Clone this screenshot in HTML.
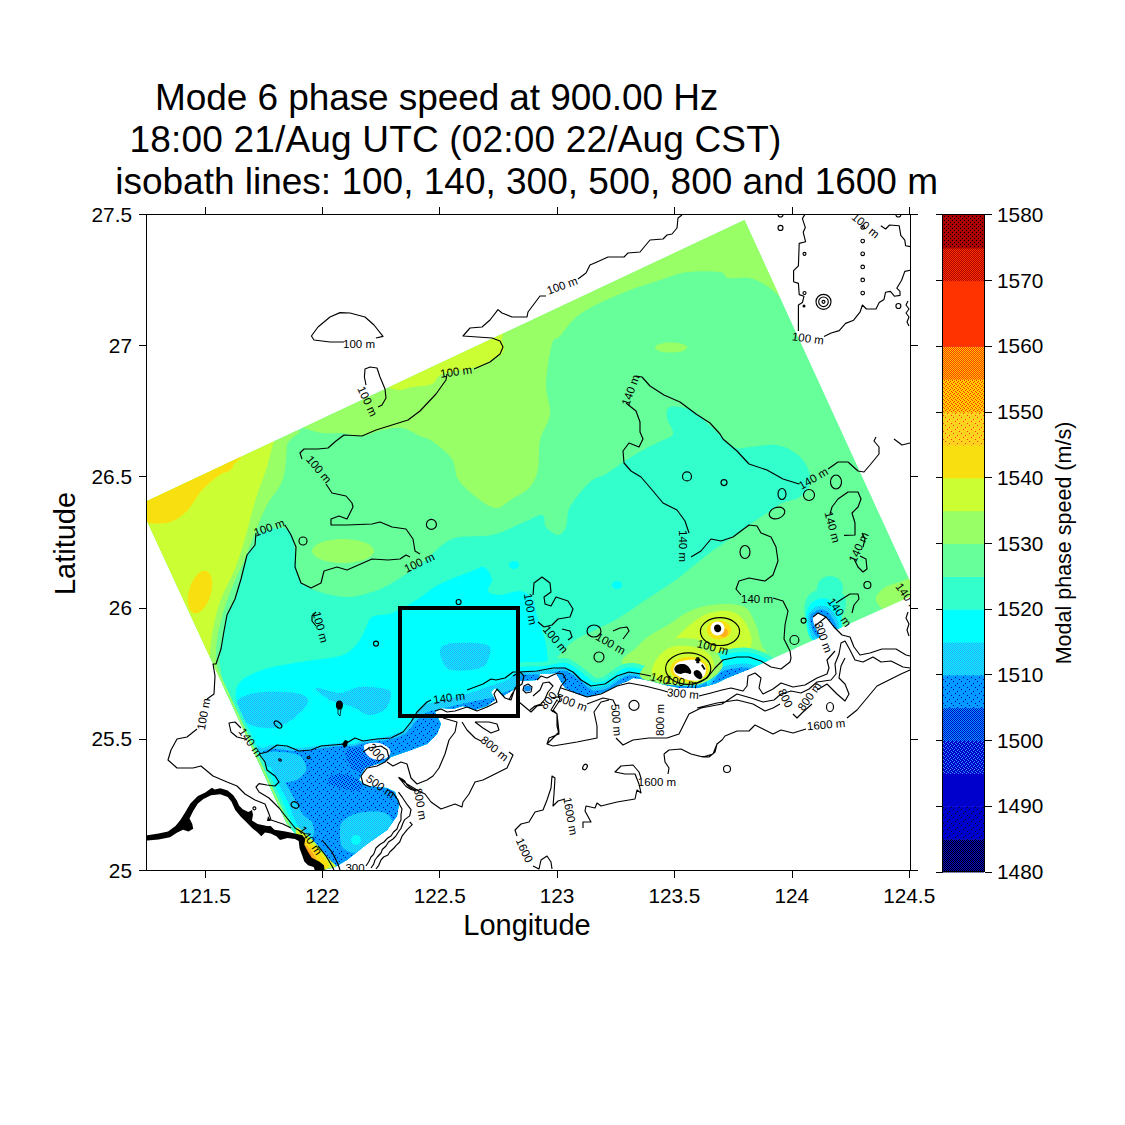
<!DOCTYPE html><html><head><meta charset="utf-8"><title>Mode 6 phase speed</title>
<style>html,body{margin:0;padding:0;background:#fff}svg{display:block}text{font-family:"Liberation Sans",sans-serif;fill:#000}</style></head><body>
<svg width="1125" height="1125" viewBox="0 0 1125 1125">
<rect width="1125" height="1125" fill="#fff"/>
<defs><pattern id="pb" width="8" height="8" patternUnits="userSpaceOnUse" shape-rendering="crispEdges"><rect width="8" height="8" fill="#0099ff"/><rect x="1" y="1" width="1" height="1" fill="#0000cc"/><rect x="5" y="3" width="1" height="1" fill="#0000cc"/><rect x="3" y="5" width="1" height="1" fill="#0000cc"/><rect x="7" y="7" width="1" height="1" fill="#0000cc"/></pattern><pattern id="pdb" width="4" height="4" patternUnits="userSpaceOnUse" shape-rendering="crispEdges"><rect width="4" height="4" fill="#0099ff"/><rect x="0" y="0" width="1" height="1" fill="#0000cc"/><rect x="2" y="1" width="1" height="1" fill="#0000cc"/><rect x="1" y="2" width="1" height="1" fill="#0000cc"/><rect x="3" y="3" width="1" height="1" fill="#0000cc"/></pattern><pattern id="c4" width="2" height="2" patternUnits="userSpaceOnUse" shape-rendering="crispEdges"><rect width="2" height="2" fill="#0099ff"/><rect x="0" y="0" width="1" height="1" fill="#0000cc"/><rect x="1" y="1" width="1" height="1" fill="#0000cc"/></pattern><pattern id="plb" width="2" height="2" patternUnits="userSpaceOnUse" shape-rendering="crispEdges"><rect width="2" height="2" fill="#00ffff"/><rect x="0" y="0" width="1" height="1" fill="#2aa4ff"/><rect x="1" y="1" width="1" height="1" fill="#2aa4ff"/></pattern><pattern id="c19" width="4" height="4" patternUnits="userSpaceOnUse" shape-rendering="crispEdges"><rect width="4" height="4" fill="#aa0000"/><rect x="0" y="0" width="1" height="1" fill="#000000"/><rect x="2" y="2" width="1" height="1" fill="#000000"/></pattern><pattern id="c18" width="2" height="2" patternUnits="userSpaceOnUse" shape-rendering="crispEdges"><rect width="2" height="2" fill="#aa0000"/><rect x="0" y="0" width="1" height="1" fill="#ff3300"/><rect x="1" y="1" width="1" height="1" fill="#ff3300"/></pattern><pattern id="c15" width="2" height="2" patternUnits="userSpaceOnUse" shape-rendering="crispEdges"><rect width="2" height="2" fill="#ff3300"/><rect x="0" y="0" width="1" height="1" fill="#ffcc00"/><rect x="1" y="1" width="1" height="1" fill="#ffcc00"/></pattern><pattern id="c14" width="4" height="4" patternUnits="userSpaceOnUse" shape-rendering="crispEdges"><rect width="4" height="4" fill="#ffcc00"/><rect x="0" y="0" width="1" height="1" fill="#ff3300"/><rect x="2" y="1" width="1" height="1" fill="#ff3300"/><rect x="1" y="2" width="1" height="1" fill="#ff3300"/><rect x="3" y="3" width="1" height="1" fill="#ff3300"/></pattern><pattern id="c13" width="8" height="8" patternUnits="userSpaceOnUse" shape-rendering="crispEdges"><rect width="8" height="8" fill="#ffd21e"/><rect x="1" y="1" width="1" height="1" fill="#ff3300"/><rect x="5" y="3" width="1" height="1" fill="#ff3300"/><rect x="3" y="5" width="1" height="1" fill="#ff3300"/><rect x="7" y="7" width="1" height="1" fill="#ff3300"/></pattern><pattern id="c3" width="4" height="4" patternUnits="userSpaceOnUse" shape-rendering="crispEdges"><rect width="4" height="4" fill="#0000cc"/><rect x="0" y="0" width="1" height="1" fill="#3399ff"/><rect x="2" y="1" width="1" height="1" fill="#3399ff"/><rect x="1" y="2" width="1" height="1" fill="#3399ff"/><rect x="3" y="3" width="1" height="1" fill="#3399ff"/></pattern><pattern id="c1" width="8" height="8" patternUnits="userSpaceOnUse" shape-rendering="crispEdges"><rect width="8" height="8" fill="#0000cc"/><rect x="1" y="1" width="1" height="1" fill="#000000"/><rect x="5" y="3" width="1" height="1" fill="#000000"/><rect x="3" y="5" width="1" height="1" fill="#000000"/><rect x="7" y="7" width="1" height="1" fill="#000000"/></pattern><pattern id="c0" width="2" height="2" patternUnits="userSpaceOnUse" shape-rendering="crispEdges"><rect width="2" height="2" fill="#0000cc"/><rect x="0" y="0" width="1" height="1" fill="#000000"/><rect x="1" y="1" width="1" height="1" fill="#000000"/></pattern><clipPath id="reg"><path d="M744.5 220.0L910.0 581.0L910.0 596.5L765.0 662.0L752.0 668.0L737.0 674.0L725.0 679.0L717.0 683.0L707.0 686.0L697.0 688.0L680.0 688.0L665.0 685.0L651.0 681.0L641.0 679.0L633.0 678.0L628.0 681.0L620.0 684.0L607.0 691.0L596.0 695.0L587.0 697.0L575.0 693.0L565.0 688.0L560.0 680.0L556.0 673.0L540.0 674.0L537.0 680.0L520.0 681.0L513.0 690.0L503.0 696.0L495.0 688.0L491.0 692.0L495.0 700.0L487.0 706.0L475.0 710.0L463.0 706.0L453.0 709.0L441.0 708.0L435.0 712.0L441.0 724.0L437.0 734.0L427.0 744.0L411.0 750.0L391.0 757.0L385.0 762.0L377.0 764.0L365.0 768.0L359.0 780.0L367.0 786.0L387.0 788.0L395.0 792.0L399.0 804.0L397.0 816.0L387.0 830.0L367.0 844.0L347.0 860.0L335.0 867.0L323.0 870.0L313.0 864.0L305.0 858.0L301.0 848.0L299.0 838.0L287.0 824.0L147.0 521.0L147.0 501.0Z"/></clipPath><clipPath id="ax"><rect x="147" y="214" width="763.5" height="656.5"/></clipPath></defs>
<g clip-path="url(#reg)">
<rect x="140" y="214" width="780" height="660" fill="#66ff99"/>
<path fill="#99ff66" d="M760.0 200.0C660.0 225.8 278.3 426.7 200.0 465.0C121.7 503.3 273.0 436.2 290.0 430.0C307.0 423.8 296.7 427.5 302.0 428.0C307.3 428.5 315.3 432.2 322.0 433.0C328.7 433.8 335.3 432.5 342.0 433.0C348.7 433.5 355.3 436.5 362.0 436.0C368.7 435.5 375.3 431.3 382.0 430.0C388.7 428.7 395.7 427.0 402.0 428.0C408.3 429.0 415.0 433.8 420.0 436.0C425.0 438.2 426.7 437.2 432.0 441.0C437.3 444.8 447.7 452.7 452.0 459.0C456.3 465.3 454.0 472.7 458.0 479.0C462.0 485.3 469.7 492.2 476.0 497.0C482.3 501.8 490.0 507.7 496.0 508.0C502.0 508.3 506.3 502.5 512.0 499.0C517.7 495.5 525.7 492.0 530.0 487.0C534.3 482.0 536.3 476.8 538.0 469.0C539.7 461.2 538.0 449.2 540.0 440.0C542.0 430.8 549.0 423.3 550.0 414.0C551.0 404.7 545.7 395.7 546.0 384.0C546.3 372.3 549.7 352.0 552.0 344.0C554.3 336.0 555.3 341.0 560.0 336.0C564.7 331.0 570.0 321.0 580.0 314.0C590.0 307.0 606.7 299.7 620.0 294.0C633.3 288.3 648.7 283.7 660.0 280.0C671.3 276.3 678.0 273.3 688.0 272.0C698.0 270.7 713.3 271.0 720.0 272.0C726.7 273.0 723.0 277.0 728.0 278.0C733.0 279.0 743.0 276.3 750.0 278.0C757.0 279.7 761.7 282.7 770.0 288.0C778.3 293.3 801.7 324.7 800.0 310.0C798.3 295.3 860.0 174.2 760.0 200.0Z"/>
<ellipse fill="#99ff66" cx="343" cy="551" rx="31" ry="12"/>
<ellipse fill="#99ff66" cx="671" cy="347.6" rx="16" ry="5"/>
<path fill="#99ff66" d="M120.0 480.0C148.0 462.0 260.2 437.8 288.0 432.0C315.8 426.2 287.8 437.2 287.0 445.0C286.2 452.8 286.3 469.0 283.0 479.0C279.7 489.0 271.7 496.0 267.0 505.0C262.3 514.0 259.0 523.3 255.0 533.0C251.0 542.7 247.3 552.7 243.0 563.0C238.7 573.3 233.0 584.0 229.0 595.0C225.0 606.0 221.2 618.3 219.0 629.0C216.8 639.7 215.5 649.7 216.0 659.0C216.5 668.3 219.3 676.2 222.0 685.0C224.7 693.8 231.5 704.5 232.0 712.0C232.5 719.5 243.7 758.7 225.0 730.0C206.3 701.3 137.5 581.7 120.0 540.0C102.5 498.3 92.0 498.0 120.0 480.0Z"/>
<path fill="#99ff66" d="M622.0 662.0C621.3 657.0 631.5 652.3 636.0 648.0C640.5 643.7 643.7 639.8 649.0 636.0C654.3 632.2 661.8 628.8 668.0 625.0C674.2 621.2 679.8 616.2 686.0 613.0C692.2 609.8 698.0 607.5 705.0 606.0C712.0 604.5 721.2 603.7 728.0 604.0C734.8 604.3 741.3 604.5 746.0 608.0C750.7 611.5 753.5 619.2 756.0 625.0C758.5 630.8 759.0 636.5 761.0 643.0C763.0 649.5 771.5 654.5 768.0 664.0C764.5 673.5 758.0 694.0 740.0 700.0C722.0 706.0 676.7 703.7 660.0 700.0C643.3 696.3 646.3 684.3 640.0 678.0C633.7 671.7 622.7 667.0 622.0 662.0Z"/>
<path fill="#99ff66" d="M876.0 600.0C875.0 596.0 880.0 591.0 884.0 588.0C888.0 585.0 894.7 583.7 900.0 582.0C905.3 580.3 912.7 575.0 916.0 578.0C919.3 581.0 924.3 594.3 920.0 600.0C915.7 605.7 897.3 612.0 890.0 612.0C882.7 612.0 877.0 604.0 876.0 600.0Z"/>
<path fill="#ccff33" d="M120.0 480.0C146.0 459.0 250.5 440.0 276.0 434.0C301.5 428.0 274.7 438.0 273.0 444.0C271.3 450.0 268.5 462.0 266.0 470.0C263.5 478.0 260.3 485.0 258.0 492.0C255.7 499.0 254.0 504.8 252.0 512.0C250.0 519.2 248.8 525.5 246.0 535.0C243.2 544.5 239.2 558.3 235.0 569.0C230.8 579.7 224.7 589.0 221.0 599.0C217.3 609.0 214.8 619.0 213.0 629.0C211.2 639.0 209.8 651.8 210.0 659.0C210.2 666.2 229.0 688.5 214.0 672.0C199.0 655.5 135.7 592.0 120.0 560.0C104.3 528.0 94.0 501.0 120.0 480.0Z"/>
<path fill="#ccff33" d="M396.0 380.0C411.7 370.8 474.3 341.5 492.0 335.0C509.7 328.5 500.2 338.2 502.0 341.0C503.8 343.8 504.7 348.8 503.0 352.0C501.3 355.2 497.2 357.3 492.0 360.0C486.8 362.7 480.3 365.7 472.0 368.0C463.7 370.3 448.7 371.3 442.0 374.0C435.3 376.7 437.0 381.8 432.0 384.0C427.0 386.2 417.7 386.0 412.0 387.0C406.3 388.0 400.7 391.2 398.0 390.0C395.3 388.8 380.3 389.2 396.0 380.0Z"/>
<path fill="#ccff33" d="M656.0 659.0C656.5 651.5 663.7 649.5 668.0 645.0C672.3 640.5 677.3 636.2 682.0 632.0C686.7 627.8 691.3 623.2 696.0 620.0C700.7 616.8 704.7 614.5 710.0 613.0C715.3 611.5 722.7 610.2 728.0 611.0C733.3 611.8 738.2 613.8 742.0 618.0C745.8 622.2 749.8 630.7 751.0 636.0C752.2 641.3 751.7 646.5 749.0 650.0C746.3 653.5 739.7 655.5 735.0 657.0C730.3 658.5 724.5 657.2 721.0 659.0C717.5 660.8 717.5 661.2 714.0 668.0C710.5 674.8 708.2 696.3 700.0 700.0C691.8 703.7 672.3 696.8 665.0 690.0C657.7 683.2 655.5 666.5 656.0 659.0Z"/>
<path fill="#f8e010" d="M140.0 500.0C156.0 489.7 221.7 463.0 236.0 458.0C250.3 453.0 231.3 465.0 226.0 470.0C220.7 475.0 210.7 481.0 204.0 488.0C197.3 495.0 192.3 506.2 186.0 512.0C179.7 517.8 173.7 521.7 166.0 523.0C158.3 524.3 144.3 523.8 140.0 520.0C135.7 516.2 124.0 510.3 140.0 500.0Z"/>
<ellipse fill="#f8e010" cx="200" cy="592" rx="11" ry="22" transform="rotate(16 200 592)"/>
<ellipse fill="#f8e010" cx="226" cy="468" rx="8" ry="4" transform="rotate(-25 226 468)"/>
<path fill="#33ffcc" d="M259.0 533.0C264.3 530.3 281.0 526.0 287.0 529.0C293.0 532.0 293.0 542.7 295.0 551.0C297.0 559.3 295.3 572.3 299.0 579.0C302.7 585.7 309.0 588.0 317.0 591.0C325.0 594.0 337.8 596.8 347.0 597.0C356.2 597.2 364.5 594.3 372.0 592.0C379.5 589.7 383.7 587.8 392.0 583.0C400.3 578.2 412.0 570.3 422.0 563.0C432.0 555.7 440.3 543.7 452.0 539.0C463.7 534.3 480.3 537.7 492.0 535.0C503.7 532.3 513.7 526.3 522.0 523.0C530.3 519.7 538.0 514.3 542.0 515.0C546.0 515.7 543.3 523.7 546.0 527.0C548.7 530.3 554.7 535.0 558.0 535.0C561.3 535.0 564.0 531.7 566.0 527.0C568.0 522.3 566.0 514.5 570.0 507.0C574.0 499.5 584.0 487.5 590.0 482.0C596.0 476.5 600.2 477.5 606.0 474.0C611.8 470.5 618.8 465.0 625.0 461.0C631.2 457.0 637.3 453.2 643.0 450.0C648.7 446.8 654.0 444.7 659.0 442.0C664.0 439.3 671.7 438.0 673.0 434.0C674.3 430.0 667.5 422.5 667.0 418.0C666.5 413.5 666.0 408.3 670.0 407.0C674.0 405.7 684.3 406.8 691.0 410.0C697.7 413.2 702.8 419.8 710.0 426.0C717.2 432.2 727.3 443.5 734.0 447.0C740.7 450.5 742.8 447.3 750.0 447.0C757.2 446.7 769.0 443.7 777.0 445.0C785.0 446.3 792.7 450.7 798.0 455.0C803.3 459.3 807.2 465.7 809.0 471.0C810.8 476.3 810.8 482.5 809.0 487.0C807.2 491.5 802.5 495.3 798.0 498.0C793.5 500.7 787.2 500.5 782.0 503.0C776.8 505.5 772.5 509.3 767.0 513.0C761.5 516.7 755.7 520.3 749.0 525.0C742.3 529.7 734.0 536.0 727.0 541.0C720.0 546.0 715.3 548.7 707.0 555.0C698.7 561.3 687.0 571.7 677.0 579.0C667.0 586.3 657.0 592.3 647.0 599.0C637.0 605.7 625.3 614.0 617.0 619.0C608.7 624.0 604.0 625.5 597.0 629.0C590.0 632.5 580.8 636.2 575.0 640.0C569.2 643.8 565.2 648.0 562.0 652.0C558.8 656.0 557.0 656.0 556.0 664.0C555.0 672.0 598.7 660.7 556.0 700.0C513.3 739.3 351.0 890.0 300.0 900.0C249.0 910.0 260.7 789.7 250.0 760.0C239.3 730.3 240.0 732.8 236.0 722.0C232.0 711.2 228.7 704.7 226.0 695.0C223.3 685.3 220.8 671.7 220.0 664.0C219.2 656.3 220.3 654.5 221.0 649.0C221.7 643.5 223.0 636.7 224.0 631.0C225.0 625.3 225.2 620.3 227.0 615.0C228.8 609.7 232.7 605.0 235.0 599.0C237.3 593.0 239.0 586.3 241.0 579.0C243.0 571.7 244.7 560.7 247.0 555.0C249.3 549.3 253.0 548.7 255.0 545.0C257.0 541.3 253.7 535.7 259.0 533.0Z"/>
<ellipse fill="#33ffcc" cx="830" cy="588" rx="13" ry="12"/>
<path fill="#33ffcc" d="M806.0 600.0C808.0 595.0 812.3 591.3 818.0 590.0C823.7 588.7 835.3 589.7 840.0 592.0C844.7 594.3 846.3 599.0 846.0 604.0C845.7 609.0 842.3 617.7 838.0 622.0C833.7 626.3 825.3 630.3 820.0 630.0C814.7 629.7 808.3 625.0 806.0 620.0C803.7 615.0 804.0 605.0 806.0 600.0Z"/>
<path fill="#00ffff" d="M372.0 617.0C376.5 614.2 384.3 616.0 392.0 613.0C399.7 610.0 410.3 603.7 418.0 599.0C425.7 594.3 429.0 589.7 438.0 585.0C447.0 580.3 464.3 574.0 472.0 571.0C479.7 568.0 480.7 565.7 484.0 567.0C487.3 568.3 491.3 575.0 492.0 579.0C492.7 583.0 486.7 588.3 488.0 591.0C489.3 593.7 494.7 595.0 500.0 595.0C505.3 595.0 514.7 590.3 520.0 591.0C525.3 591.7 529.0 594.3 532.0 599.0C535.0 603.7 535.8 612.2 538.0 619.0C540.2 625.8 543.3 632.5 545.0 640.0C546.7 647.5 547.5 654.0 548.0 664.0C548.5 674.0 589.3 660.7 548.0 700.0C506.7 739.3 347.7 888.3 300.0 900.0C252.3 911.7 271.0 798.7 262.0 770.0C253.0 741.3 250.3 739.7 246.0 728.0C241.7 716.3 237.0 707.7 236.0 700.0C235.0 692.3 235.7 687.0 240.0 682.0C244.3 677.0 252.0 673.3 262.0 670.0C272.0 666.7 287.0 664.3 300.0 662.0C313.0 659.7 330.7 658.8 340.0 656.0C349.3 653.2 351.8 649.3 356.0 645.0C360.2 640.7 362.3 634.7 365.0 630.0C367.7 625.3 367.5 619.8 372.0 617.0Z"/>
<ellipse fill="#00ffff" cx="514" cy="565" rx="5" ry="4"/>
<ellipse fill="#00ffff" cx="617" cy="585" rx="5" ry="4"/>
<ellipse fill="#00ffff" cx="367" cy="649" rx="7" ry="7"/>
<path fill="#00ffff" d="M808.0 610.0C808.3 605.7 812.3 601.7 816.0 600.0C819.7 598.3 826.3 598.0 830.0 600.0C833.7 602.0 838.0 607.7 838.0 612.0C838.0 616.3 834.0 623.7 830.0 626.0C826.0 628.3 817.7 628.7 814.0 626.0C810.3 623.3 807.7 614.3 808.0 610.0Z"/>
<path fill="url(#plb)" d="M236.0 704.0C237.3 699.0 245.2 694.8 255.0 693.0C264.8 691.2 286.2 691.7 295.0 693.0C303.8 694.3 308.0 697.0 308.0 701.0C308.0 705.0 300.8 712.5 295.0 717.0C289.2 721.5 281.0 727.0 273.0 728.0C265.0 729.0 253.2 727.0 247.0 723.0C240.8 719.0 234.7 709.0 236.0 704.0Z"/>
<path fill="url(#plb)" d="M316.0 688.0C317.7 686.8 332.8 693.2 340.0 693.0C347.2 692.8 352.3 687.8 359.0 687.0C365.7 686.2 374.7 687.0 380.0 688.0C385.3 689.0 390.2 689.5 391.0 693.0C391.8 696.5 388.7 705.3 385.0 709.0C381.3 712.7 374.3 715.3 369.0 715.0C363.7 714.7 359.5 709.5 353.0 707.0C346.5 704.5 336.2 703.2 330.0 700.0C323.8 696.8 314.3 689.2 316.0 688.0Z"/>
<path fill="url(#plb)" d="M441.0 648.0C443.2 645.2 447.3 643.5 455.0 643.0C462.7 642.5 481.3 642.7 487.0 645.0C492.7 647.3 490.2 653.2 489.0 657.0C487.8 660.8 486.2 665.8 480.0 668.0C473.8 670.2 458.3 671.3 452.0 670.0C445.7 668.7 443.8 663.7 442.0 660.0C440.2 656.3 438.8 650.8 441.0 648.0Z"/>
<path fill="url(#plb)" d="M250.0 742.0C248.7 738.3 258.2 747.5 262.0 748.0C265.8 748.5 267.2 745.0 273.0 745.0C278.8 745.0 289.8 747.8 297.0 748.0C304.2 748.2 308.8 746.8 316.0 746.0C323.2 745.2 333.8 743.3 340.0 743.0C346.2 742.7 349.0 744.5 353.0 744.0C357.0 743.5 359.5 741.0 364.0 740.0C368.5 739.0 374.8 739.0 380.0 738.0C385.2 737.0 390.5 735.7 395.0 734.0C399.5 732.3 403.7 731.0 407.0 728.0C410.3 725.0 412.0 719.8 415.0 716.0C418.0 712.2 420.0 707.7 425.0 705.0C430.0 702.3 437.5 702.0 445.0 700.0C452.5 698.0 462.5 695.3 470.0 693.0C477.5 690.7 484.2 688.0 490.0 686.0C495.8 684.0 500.0 683.0 505.0 681.0C510.0 679.0 515.8 670.8 520.0 674.0C524.2 677.2 566.7 662.3 530.0 700.0C493.3 737.7 339.3 880.0 300.0 900.0C260.7 920.0 299.0 841.7 294.0 820.0C289.0 798.3 277.3 783.0 270.0 770.0C262.7 757.0 251.3 745.7 250.0 742.0Z"/>
<path fill="url(#pb)" d="M262.0 754.0C261.5 750.8 267.2 749.5 273.0 749.0C278.8 748.5 289.8 751.0 297.0 751.0C304.2 751.0 308.8 749.8 316.0 749.0C323.2 748.2 333.8 746.5 340.0 746.0C346.2 745.5 349.0 746.5 353.0 746.0C357.0 745.5 359.5 743.8 364.0 743.0C368.5 742.2 374.8 741.8 380.0 741.0C385.2 740.2 390.5 739.5 395.0 738.0C399.5 736.5 403.3 735.0 407.0 732.0C410.7 729.0 413.5 723.3 417.0 720.0C420.5 716.7 423.3 714.0 428.0 712.0C432.7 710.0 438.0 709.7 445.0 708.0C452.0 706.3 462.5 703.7 470.0 702.0C477.5 700.3 481.7 700.0 490.0 698.0C498.3 696.0 513.3 686.3 520.0 690.0C526.7 693.7 566.7 685.0 530.0 720.0C493.3 755.0 336.0 881.3 300.0 900.0C264.0 918.7 313.7 846.5 314.0 832.0C314.3 817.5 306.2 820.2 302.0 813.0C297.8 805.8 293.3 796.5 289.0 789.0C284.7 781.5 280.5 773.8 276.0 768.0C271.5 762.2 262.5 757.2 262.0 754.0Z"/>
<path fill="url(#plb)" d="M262.0 754.0C263.3 750.7 273.7 751.7 280.0 752.0C286.3 752.3 295.7 753.0 300.0 756.0C304.3 759.0 306.7 766.0 306.0 770.0C305.3 774.0 300.3 778.0 296.0 780.0C291.7 782.0 284.0 783.3 280.0 782.0C276.0 780.7 275.0 776.7 272.0 772.0C269.0 767.3 260.7 757.3 262.0 754.0Z"/>
<ellipse fill="#99ff66" cx="271" cy="780" rx="5" ry="7" transform="rotate(-20 271 780)"/>
<path fill="url(#plb)" d="M343.0 821.0C346.2 817.8 352.0 814.3 359.0 813.0C366.0 811.7 379.3 810.7 385.0 813.0C390.7 815.3 393.8 822.0 393.0 827.0C392.2 832.0 385.7 838.7 380.0 843.0C374.3 847.3 365.2 852.2 359.0 853.0C352.8 853.8 346.2 851.5 343.0 848.0C339.8 844.5 340.0 836.5 340.0 832.0C340.0 827.5 339.8 824.2 343.0 821.0Z"/>
<ellipse fill="#00ffff" cx="356" cy="840" rx="5" ry="5"/>
<path fill="url(#pdb)" d="M346.0 750.4C348.1 747.5 356.7 746.9 362.0 747.2C367.3 747.5 375.1 749.6 378.0 752.0C380.9 754.4 380.7 758.4 379.6 761.6C378.5 764.8 375.1 769.3 371.6 771.2C368.1 773.1 362.5 773.9 358.8 772.8C355.1 771.7 351.3 768.5 349.2 764.8C347.1 761.1 343.9 753.3 346.0 750.4Z"/>
<path fill="url(#pdb)" d="M330.0 776.0C332.7 774.4 340.9 773.3 346.0 774.4C351.1 775.5 358.3 779.7 360.4 782.4C362.5 785.1 361.7 789.3 358.8 790.4C355.9 791.5 347.6 789.9 342.8 788.8C338.0 787.7 332.1 786.1 330.0 784.0C327.9 781.9 327.3 777.6 330.0 776.0Z"/>
<path fill="none" stroke="#00ffff" stroke-width="18" d="M262 770L296 844"/>
<path fill="none" stroke="#33ffcc" stroke-width="11" d="M222 684L296 844"/>
<path fill="none" stroke="#99ff66" stroke-width="4.5" d="M213 664L296 844"/>
<path fill="#fff" d="M364.0 746.0C364.7 743.8 369.0 743.3 372.0 743.0C375.0 742.7 379.0 742.8 382.0 744.0C385.0 745.2 389.0 747.8 390.0 750.0C391.0 752.2 390.0 755.3 388.0 757.0C386.0 758.7 381.3 760.2 378.0 760.0C374.7 759.8 370.3 758.3 368.0 756.0C365.7 753.7 363.3 748.2 364.0 746.0Z"/>
<path fill="none" stroke="#33ffcc" stroke-width="18" stroke-linejoin="round" d="M800.0 655.0C798.3 656.2 793.2 659.7 790.0 662.0C786.8 664.3 784.2 668.2 781.0 669.0C777.8 669.8 774.3 668.3 771.0 667.0C767.7 665.7 764.7 662.7 761.0 661.0C757.3 659.3 753.0 657.7 749.0 657.0C745.0 656.3 741.3 656.5 737.0 657.0C732.7 657.5 726.7 658.2 723.0 660.0C719.3 661.8 717.7 665.0 715.0 668.0C712.3 671.0 710.0 675.5 707.0 678.0C704.0 680.5 701.5 682.3 697.0 683.0C692.5 683.7 685.3 682.7 680.0 682.0C674.7 681.3 669.8 680.0 665.0 679.0C660.2 678.0 655.0 676.8 651.0 676.0C647.0 675.2 644.0 674.7 641.0 674.0C638.0 673.3 635.7 672.2 633.0 672.0C630.3 671.8 627.8 671.8 625.0 673.0C622.2 674.2 619.0 677.0 616.0 679.0C613.0 681.0 610.3 683.7 607.0 685.0C603.7 686.3 598.7 686.8 596.0 687.0C593.3 687.2 593.7 687.7 591.0 686.0C588.3 684.3 583.2 679.5 580.0 677.0C576.8 674.5 574.7 672.7 572.0 671.0C569.3 669.3 567.2 667.3 564.0 667.0C560.8 666.7 557.0 668.3 553.0 669.0C549.0 669.7 544.8 670.7 540.0 671.0C535.2 671.3 527.5 670.7 524.0 671.0C520.5 671.3 519.8 672.7 519.0 673.0"/>
<path fill="none" stroke="#00ffff" stroke-width="9" stroke-linejoin="round" d="M800.0 655.0C798.3 656.2 793.2 659.7 790.0 662.0C786.8 664.3 784.2 668.2 781.0 669.0C777.8 669.8 774.3 668.3 771.0 667.0C767.7 665.7 764.7 662.7 761.0 661.0C757.3 659.3 753.0 657.7 749.0 657.0C745.0 656.3 741.3 656.5 737.0 657.0C732.7 657.5 726.7 658.2 723.0 660.0C719.3 661.8 717.7 665.0 715.0 668.0C712.3 671.0 710.0 675.5 707.0 678.0C704.0 680.5 701.5 682.3 697.0 683.0C692.5 683.7 685.3 682.7 680.0 682.0C674.7 681.3 669.8 680.0 665.0 679.0C660.2 678.0 655.0 676.8 651.0 676.0C647.0 675.2 644.0 674.7 641.0 674.0C638.0 673.3 635.7 672.2 633.0 672.0C630.3 671.8 627.8 671.8 625.0 673.0C622.2 674.2 619.0 677.0 616.0 679.0C613.0 681.0 610.3 683.7 607.0 685.0C603.7 686.3 598.7 686.8 596.0 687.0C593.3 687.2 593.7 687.7 591.0 686.0C588.3 684.3 583.2 679.5 580.0 677.0C576.8 674.5 574.7 672.7 572.0 671.0C569.3 669.3 567.2 667.3 564.0 667.0C560.8 666.7 557.0 668.3 553.0 669.0C549.0 669.7 544.8 670.7 540.0 671.0C535.2 671.3 527.5 670.7 524.0 671.0C520.5 671.3 519.8 672.7 519.0 673.0"/>
<path fill="url(#plb)" d="M715.0 668.0C713.7 669.7 710.0 675.5 707.0 678.0C704.0 680.5 701.5 682.3 697.0 683.0C692.5 683.7 685.3 682.7 680.0 682.0C674.7 681.3 669.8 680.0 665.0 679.0C660.2 678.0 655.0 676.8 651.0 676.0C647.0 675.2 644.0 674.7 641.0 674.0C638.0 673.3 635.7 672.2 633.0 672.0C630.3 671.8 627.8 671.8 625.0 673.0C622.2 674.2 619.0 677.0 616.0 679.0C613.0 681.0 610.3 683.7 607.0 685.0C603.7 686.3 598.7 686.8 596.0 687.0C593.3 687.2 593.7 687.7 591.0 686.0C588.3 684.3 583.2 679.5 580.0 677.0C576.8 674.5 574.7 672.7 572.0 671.0C569.3 669.3 567.2 667.3 564.0 667.0C560.8 666.7 557.0 668.3 553.0 669.0C549.0 669.7 544.8 670.7 540.0 671.0C535.2 671.3 527.5 670.7 524.0 671.0C520.5 671.3 519.8 672.7 519.0 673.0L519 730L715 730Z"/>
<path fill="url(#pb)" d="M715.0 671.5C713.7 673.2 710.0 679.0 707.0 681.5C704.0 684.0 701.5 685.8 697.0 686.5C692.5 687.2 685.3 686.2 680.0 685.5C674.7 684.8 669.8 683.5 665.0 682.5C660.2 681.5 655.0 680.3 651.0 679.5C647.0 678.7 644.0 678.2 641.0 677.5C638.0 676.8 635.7 675.7 633.0 675.5C630.3 675.3 627.8 675.3 625.0 676.5C622.2 677.7 619.0 680.5 616.0 682.5C613.0 684.5 610.3 687.2 607.0 688.5C603.7 689.8 598.7 690.3 596.0 690.5C593.3 690.7 593.7 691.2 591.0 689.5C588.3 687.8 583.2 683.0 580.0 680.5C576.8 678.0 574.7 676.2 572.0 674.5C569.3 672.8 567.2 670.8 564.0 670.5C560.8 670.2 557.0 671.8 553.0 672.5C549.0 673.2 544.8 674.2 540.0 674.5C535.2 674.8 527.5 674.2 524.0 674.5C520.5 674.8 519.8 676.2 519.0 676.5L519 730L715 730Z"/>
<path fill="#00ffff" d="M800.0 655.0C798.3 656.2 793.2 659.7 790.0 662.0C786.8 664.3 784.2 668.2 781.0 669.0C777.8 669.8 774.3 668.3 771.0 667.0C767.7 665.7 764.7 662.7 761.0 661.0C757.3 659.3 753.0 657.7 749.0 657.0C745.0 656.3 741.3 656.5 737.0 657.0C732.7 657.5 726.7 658.2 723.0 660.0C719.3 661.8 717.7 665.0 715.0 668.0C712.3 671.0 708.3 676.3 707.0 678.0L707 730L800 730Z"/>
<path fill="url(#plb)" d="M800.0 662.0C798.3 663.2 793.2 666.7 790.0 669.0C786.8 671.3 784.2 675.2 781.0 676.0C777.8 676.8 774.3 675.3 771.0 674.0C767.7 672.7 764.7 669.7 761.0 668.0C757.3 666.3 753.0 664.7 749.0 664.0C745.0 663.3 741.3 663.5 737.0 664.0C732.7 664.5 726.7 665.2 723.0 667.0C719.3 668.8 717.7 672.0 715.0 675.0C712.3 678.0 708.3 683.3 707.0 685.0L707 730L800 730Z"/>
<path fill="url(#pb)" d="M800.0 666.0C798.3 667.2 793.2 670.7 790.0 673.0C786.8 675.3 784.2 679.2 781.0 680.0C777.8 680.8 774.3 679.3 771.0 678.0C767.7 676.7 764.7 673.7 761.0 672.0C757.3 670.3 753.0 668.7 749.0 668.0C745.0 667.3 741.3 667.5 737.0 668.0C732.7 668.5 726.7 669.2 723.0 671.0C719.3 672.8 717.7 676.0 715.0 679.0C712.3 682.0 708.3 687.3 707.0 689.0L707 730L800 730Z"/>
<path fill="#99ff66" d="M640.0 676.0C638.3 672.0 645.3 666.0 650.0 660.0C654.7 654.0 659.7 643.3 668.0 640.0C676.3 636.7 692.0 638.0 700.0 640.0C708.0 642.0 712.3 647.3 716.0 652.0C719.7 656.7 724.7 662.7 722.0 668.0C719.3 673.3 710.3 681.3 700.0 684.0C689.7 686.7 670.0 685.3 660.0 684.0C650.0 682.7 641.7 680.0 640.0 676.0Z"/>
<path fill="#ccff33" d="M652.0 672.0C651.2 667.5 656.0 659.3 660.0 655.0C664.0 650.7 668.7 646.8 676.0 646.0C683.3 645.2 697.7 646.7 704.0 650.0C710.3 653.3 714.7 660.7 714.0 666.0C713.3 671.3 708.2 679.3 700.0 682.0C691.8 684.7 673.0 683.7 665.0 682.0C657.0 680.3 652.8 676.5 652.0 672.0Z"/>
<ellipse fill="#ccff33" cx="688.2" cy="668.6" rx="22.6" ry="15.7"/>
<ellipse fill="#f8e010" cx="689.5" cy="669.2" rx="19" ry="12.5"/>
<path fill="#fff" d="M673.5 669.0C673.8 667.2 675.1 664.4 677.0 663.0C678.9 661.6 682.0 661.0 685.0 660.5C688.0 660.0 692.0 659.5 695.0 660.0C698.0 660.5 701.2 662.0 703.0 663.5C704.8 665.0 705.8 666.9 706.0 669.0C706.2 671.1 705.3 674.1 704.0 676.0C702.7 677.9 700.5 679.8 698.0 680.5C695.5 681.2 692.0 680.6 689.0 680.0C686.0 679.4 682.3 678.1 680.0 677.0C677.7 675.9 676.1 674.8 675.0 673.5C673.9 672.2 673.2 670.8 673.5 669.0Z"/>
<ellipse fill="#ccff33" cx="719.7" cy="632.3" rx="19.6" ry="14.4"/>
<ellipse fill="#f8e010" cx="719" cy="630" rx="12" ry="9.5"/>
<ellipse fill="#ffb020" cx="723.5" cy="632.5" rx="4.5" ry="4.5"/>
<circle fill="#fff" cx="717.5" cy="628.5" r="7"/>
<path fill="#ccff33" d="M296.0 828.0C297.0 825.3 302.3 831.0 306.0 834.0C309.7 837.0 314.3 842.0 318.0 846.0C321.7 850.0 325.0 854.3 328.0 858.0C331.0 861.7 337.7 865.7 336.0 868.0C334.3 870.3 324.0 875.0 318.0 872.0C312.0 869.0 303.7 857.3 300.0 850.0C296.3 842.7 295.0 830.7 296.0 828.0Z"/>
<path fill="#f8e010" d="M300.0 836.0C301.3 834.3 306.7 839.3 310.0 842.0C313.3 844.7 316.8 848.0 320.0 852.0C323.2 856.0 330.0 863.0 329.0 866.0C328.0 869.0 318.5 872.3 314.0 870.0C309.5 867.7 304.3 857.7 302.0 852.0C299.7 846.3 298.7 837.7 300.0 836.0Z"/>
<path fill="#ffb020" d="M304.0 844.0C305.0 843.2 308.0 846.7 310.0 849.0C312.0 851.3 314.8 855.2 316.0 858.0C317.2 860.8 318.0 864.7 317.0 866.0C316.0 867.3 312.2 868.0 310.0 866.0C307.8 864.0 305.0 857.7 304.0 854.0C303.0 850.3 303.0 844.8 304.0 844.0Z"/>
<path fill="#ff7818" d="M305.0 848.0C305.7 847.7 307.8 850.2 309.0 852.0C310.2 853.8 312.2 857.7 312.0 859.0C311.8 860.3 309.2 860.8 308.0 860.0C306.8 859.2 305.5 856.0 305.0 854.0C304.5 852.0 304.3 848.3 305.0 848.0Z"/>
<path fill="#00ffff" d="M806.0 616.0C806.0 610.0 809.0 606.7 812.0 604.0C815.0 601.3 820.0 599.7 824.0 600.0C828.0 600.3 833.0 602.3 836.0 606.0C839.0 609.7 842.0 616.3 842.0 622.0C842.0 627.7 841.0 637.0 836.0 640.0C831.0 643.0 817.0 644.0 812.0 640.0C807.0 636.0 806.0 622.0 806.0 616.0Z"/>
<path fill="url(#plb)" d="M808.0 618.0C808.0 612.7 811.3 610.0 814.0 608.0C816.7 606.0 820.8 605.3 824.0 606.0C827.2 606.7 830.5 608.7 833.0 612.0C835.5 615.3 838.8 621.3 839.0 626.0C839.2 630.7 838.2 637.7 834.0 640.0C829.8 642.3 818.3 643.7 814.0 640.0C809.7 636.3 808.0 623.3 808.0 618.0Z"/>
<path fill="url(#pb)" d="M810.0 618.0C810.0 613.8 813.7 612.3 816.0 611.0C818.3 609.7 821.5 609.2 824.0 610.0C826.5 610.8 828.8 612.8 831.0 616.0C833.2 619.2 836.8 625.0 837.0 629.0C837.2 633.0 835.5 638.8 832.0 640.0C828.5 641.2 819.7 639.7 816.0 636.0C812.3 632.3 810.0 622.2 810.0 618.0Z"/>
</g>
<path fill="#fff" d="M813.0 618.0C813.3 615.6 815.8 613.5 818.0 613.4C820.2 613.3 823.3 615.1 826.0 617.4C828.7 619.7 831.2 623.7 834.0 627.0C836.8 630.3 844.0 633.8 843.0 637.0C842.0 640.2 832.5 647.5 828.0 646.0C823.5 644.5 818.5 632.7 816.0 628.0C813.5 623.3 812.7 620.4 813.0 618.0Z"/>
<g clip-path="url(#ax)" fill="none" stroke="#000" stroke-width="1.15" stroke-linejoin="round">
<path d="M344.0 342.0L330.0 342.0L314.0 340.0L311.4 336.0L318.0 327.0L330.0 317.0L340.0 312.6L350.0 313.0L365.0 317.0L374.0 325.0L383.0 336.4L376.0 338.0M366.0 385.0L364.4 377.0L365.0 369.0L370.0 367.0L377.0 368.0L380.0 377.0L385.0 389.0L386.0 398.0L382.0 405.0L378.0 407.0M682.0 215.0L678.0 218.0L677.0 228.0L672.0 234.0L667.0 235.0L663.0 239.0L650.0 240.0L640.0 252.0L628.0 253.0L624.0 257.0L608.0 257.0L597.0 262.0L590.0 265.0L586.0 273.0L578.0 279.0M546.0 296.0L540.0 296.0L528.0 312.0L527.0 317.0L512.0 317.0L502.0 313.0L498.0 309.6L490.0 320.0L482.0 327.0L470.0 328.0L463.0 336.0L492.0 338.0L500.0 341.0L503.0 347.0L500.0 354.0L490.0 362.0L474.0 369.0M447.0 374.0L446.0 380.0L436.0 394.0L420.0 411.0L408.0 420.0L392.0 425.0L376.0 430.0L362.0 436.0L344.0 435.0L336.0 441.0L328.0 448.0L318.0 449.0L304.0 449.0L300.0 453.0L302.0 459.0M326.0 484.0L332.0 493.0L346.0 496.0L352.0 503.0L353.0 507.0L347.0 519.0L339.0 516.0L331.0 519.0L331.0 525.0L347.0 525.0L372.0 524.0L380.0 522.0L392.0 527.0L406.0 529.0L413.0 539.0L415.0 551.0L420.0 554.0M256.0 533.0L255.0 545.0L247.0 555.0L241.0 579.0L235.0 599.0L227.0 615.0L224.0 631.0L221.0 649.0L216.0 664.0L213.0 664.0L215.0 676.0L214.0 694.0L207.0 699.0M285.0 525.0L291.0 535.0L296.0 547.0L295.0 567.0L301.0 583.0L311.0 588.0L321.0 583.0L324.0 571.0L337.0 567.0L347.0 570.0L372.0 559.0L388.0 560.0L400.0 559.0L406.0 555.0L410.0 557.0M197.0 729.0L187.0 737.0L177.0 739.0L171.0 750.0L168.0 760.0L177.0 768.0L193.0 768.0L201.0 766.0L213.0 776.0L227.0 782.0L237.0 786.0L245.0 794.0L255.0 800.0L265.0 804.0L269.0 814.0L271.0 820.0L283.0 824.0L291.0 828.0M316.0 612.0L312.0 616.0L312.0 621.0L316.0 626.0M533.0 595.0L534.0 583.0L542.0 577.0L550.0 583.0L551.0 592.0L544.0 597.0L545.0 604.0L551.0 606.0L556.0 597.0L568.0 601.0L573.0 609.0L570.0 617.0L558.0 619.0L552.0 625.0L544.0 627.0L538.0 622.0M562.0 629.0L570.0 631.0L572.0 637.0L568.0 640.0M613.0 631.0L620.0 628.0L627.0 627.0L629.0 631.0L623.0 639.0M804.8 214.6L802.4 218.6L805.3 227.4L803.2 232.2L805.6 241.8L799.2 243.4L798.4 265.8L793.6 270.6L793.6 281.8L798.4 283.4L799.2 294.6L804.0 296.2L802.4 302.6L798.4 305.0L798.4 331.0M824.0 336.5L831.2 333.0L839.2 330.6L845.6 323.4L853.6 320.2L860.0 312.2L862.4 305.0L866.4 309.0L876.0 309.0L879.2 302.6L884.0 299.4L885.6 292.2L890.4 291.4L894.4 296.2L900.0 295.4L900.0 291.4L896.8 288.2L901.6 280.2L904.8 271.4L910.4 270.3M880.8 225.8L885.6 229.0L889.6 225.0L899.2 225.8L900.8 235.4L904.8 240.2L905.6 245.8L910.4 246.6M636.0 376.0L642.0 377.0L650.0 386.0L664.0 395.0L680.0 402.0L696.0 414.0L710.0 423.0L720.0 434.0L723.0 439.0L737.0 451.0L749.0 464.0L767.0 470.0L783.0 479.0L799.0 484.0M626.0 403.0L636.0 411.0L640.0 422.0L640.0 432.0L643.0 439.0L639.0 447.0L629.0 443.0L623.0 451.0L624.0 463.0L631.0 471.0L641.0 477.0L653.0 491.0L663.0 503.0L677.0 510.0L685.0 521.0L689.0 533.0M691.0 557.0L701.0 551.0L711.0 539.0L721.0 541.0L733.0 537.0L749.0 525.0L757.0 526.0L761.0 533.0L771.0 537.0L776.0 547.0L778.0 561.0L773.0 575.0L765.0 581.0L749.0 578.0L739.0 581.0L736.0 589.0L741.0 595.0M773.0 598.0L783.0 601.0L788.0 611.0L785.0 625.0L784.0 639.0L790.0 651.0L791.0 658.0L790.0 662.0L781.0 669.0L771.0 667.0L761.0 661.0L749.0 657.0L737.0 657.0L723.0 660.0L715.0 668.0L707.0 678.0L697.0 683.0M828.0 469.0L838.0 462.0L848.0 462.0L858.0 471.0L864.0 472.0L870.0 465.0L879.0 454.0L879.0 447.0L874.0 441.0L876.0 437.0M894.0 439.0L902.0 445.0L910.0 443.0M830.0 514.0L832.0 507.0L838.0 499.0L848.0 492.0L858.0 492.0L861.0 499.0L858.0 507.0L852.0 513.0L855.0 523.0L855.0 535.0L844.0 535.4M862.0 533.0L865.0 539.0L863.0 547.0M860.0 556.0L866.0 559.0L867.0 569.0L863.0 572.0L858.0 567.0L854.0 559.0M836.0 603.0L842.0 599.0L850.0 594.0L858.0 594.0L859.0 599.0L854.0 605.0L852.0 613.0M651.0 676.0L641.0 674.0L629.0 672.0L617.0 676.0L605.0 684.0L591.0 686.0L581.0 680.0L573.0 672.0L565.0 668.0L553.0 668.0L537.0 671.0L519.0 672.0L513.0 672.0L505.0 678.0L496.0 680.0L491.0 679.0L483.0 684.0L467.0 690.0M431.0 700.0L427.0 702.0L417.0 712.0L411.0 722.0L403.0 732.0L391.0 738.0L377.0 739.0L363.0 741.0L355.0 738.0L345.0 744.0L333.0 745.0L321.0 746.0L311.0 750.0L299.0 751.0L287.0 746.0L277.0 745.0L267.0 752.0L259.0 754.0M245.0 739.0L237.0 737.0L231.0 732.0L229.0 723.0L235.0 722.0L241.0 728.0M259.0 754.0L265.0 762.0L267.0 770.0L275.0 776.0L279.0 782.0L275.0 786.0L267.0 785.0L259.0 783.6L256.0 787.0L259.0 792.0L269.0 798.0L273.0 802.0L279.0 808.0L287.0 818.0L295.0 828.0L305.0 834.0M318.0 846.0L326.0 856.0L332.0 866.0L334.0 870.0M322.0 840.0L332.0 852.0L338.0 864.0L340.0 870.0M561.0 688.0L573.0 692.0L587.0 697.0L601.0 694.0L617.0 686.0L629.0 683.0L645.0 686.0L661.0 690.0L668.0 692.0M699.0 696.0L711.0 693.0L722.0 690.0L731.0 688.0L743.0 691.0L747.0 686.0L748.0 676.0L755.0 673.0L761.0 678.0L759.0 688.0L763.0 694.0L773.0 689.0L781.0 683.0L793.0 687.0L805.0 685.0L817.0 678.0L827.0 674.0L829.0 668.0L827.0 660.0L835.0 651.0M813.0 617.0L818.0 613.0L826.0 617.0L815.0 626.0M826.0 617.0L834.0 627.0L842.0 635.0L850.0 637.0L854.0 647.0L860.0 655.0L870.0 653.0L882.0 649.0L896.0 649.0L906.0 655.0L910.0 656.0M551.0 698.0L563.0 696.0M587.0 704.0L603.0 698.0L613.0 700.0L616.0 706.0M616.0 738.0L623.0 745.0L633.0 740.0L649.0 738.0L667.0 738.0L679.0 734.0L685.0 722.0L689.0 714.0L701.0 708.0L722.0 704.0L737.0 694.0L751.0 698.0L763.0 702.0L774.0 700.0L781.0 694.0L791.0 691.0L801.0 693.0L809.0 689.0L817.0 682.0L831.0 680.0L836.0 674.0L835.0 664.0L839.0 654.0L841.0 643.0L845.0 641.0L850.0 650.0L855.0 660.0L863.0 662.0L873.0 657.0L881.0 662.0L891.0 661.0L897.0 664.0L903.0 667.0L910.0 668.0M519.0 702.0L531.0 712.0L537.0 706.0L543.0 705.0M553.0 710.0L557.0 714.0L557.0 726.0L559.0 734.0L549.0 738.0L547.0 744.0L553.0 746.0L577.0 742.0L597.0 738.0L597.0 726.0L594.0 712.0L601.0 702.0L609.0 700.0M697.0 708.0L717.0 703.0L737.0 700.0L753.0 704.0L765.0 711.0L773.0 708.0L780.0 704.0M793.0 714.0L797.0 718.0L803.0 712.0L812.0 704.0M817.0 690.0L827.0 684.0L837.0 694.0L845.0 701.0L849.0 694.0L845.0 684.0L839.0 678.0L841.0 666.0L845.0 658.0M443.0 718.0L457.0 722.0L455.0 732.0L449.0 740.0L445.0 754.0L439.0 768.0L433.0 776.0L427.0 780.0L417.0 784.0L411.0 778.0L407.0 764.0L401.0 762.0L393.0 766.0L387.0 762.0M462.0 722.0L467.0 730.0L475.0 738.0L481.0 741.0M509.0 752.0L513.0 755.0L507.0 768.0L495.0 774.0L483.0 780.0L475.0 782.0L469.0 794.0L463.0 802.0L462.0 807.0L455.0 804.0L441.0 809.0L431.0 802.0L425.0 794.0L417.0 790.0L407.0 784.0L399.0 778.0M475.0 722.0L483.0 728.0L491.0 733.0L499.0 730.0L497.0 724.0L489.0 722.0L475.0 722.0M547.0 744.0L559.0 732.0L557.0 714.0L551.0 710.0L557.0 700.0M517.0 836.0L515.0 830.0L521.0 824.0L529.0 822.0L535.0 812.0L543.0 810.0L547.0 800.0L551.0 788.0L552.0 776.0L555.0 778.0L554.0 794.0L553.0 806.0L558.0 801.0L565.0 799.0M435.0 711.0L441.0 709.0L447.0 712.0L455.0 711.0L467.0 707.0L477.0 711.0L487.0 707.0L497.0 702.0L494.0 694.0L497.0 689.0L505.0 698.0L511.0 700.0L515.0 688.0L519.0 684.0M513.0 676.0L520.0 672.0L524.0 676.0L522.0 684.0L516.0 688.0L512.0 694.0L509.0 700.0M524.0 686.0L528.0 684.0L532.0 687.0L531.0 692.0L526.0 693.0L523.0 690.0ZM537.0 680.0L541.0 676.0L547.0 678.0L553.0 675.0L558.0 673.0L563.0 674.0L566.0 680.0L561.0 686.0L558.0 694.0L560.0 700.0L556.0 706.0L552.0 712.0M533.0 696.0L540.0 690.0L543.0 683.0L549.0 682.0L553.0 686.0L548.0 692.0L545.0 699.0L541.0 704.0L535.0 706.0L530.0 710.0M908.0 301.0L906.0 305.0L909.0 309.0L906.0 313.0L909.0 317.0L907.0 322.0L909.0 326.0M908.0 612.0L906.0 618.0L909.0 624.0L907.0 630.0L909.0 636.0M366.0 866.0L368.6 862.0L371.0 857.0L373.6 854.4L376.0 848.0L379.8 844.5L384.0 842.0L387.3 838.3L391.0 836.0L393.5 832.0L397.0 829.0L398.5 824.6L401.0 820.0L401.0 814.6L402.0 809.0L399.7 804.7L398.0 800.0L396.0 797.2L392.3 792.2M371.0 868.0L373.6 864.4L375.0 860.0L377.3 857.0L381.0 853.0L382.3 849.5L386.0 846.0L388.5 842.0L393.0 839.0L396.0 835.8L399.0 831.0L401.0 828.3L403.0 823.0L404.7 819.6L409.7 815.9L411.0 809.6L407.2 804.7L402.2 797.2L398.5 792.2M376.0 869.0L378.6 865.6L381.0 860.0L383.6 857.0L388.0 855.0L389.8 852.0L394.0 848.0L396.0 845.7L399.7 842.0L402.2 835.8L407.2 829.6L412.2 824.6L409.7 822.0M398.5 777.3L402.0 779.0L404.7 781.0L407.0 785.0L409.7 787.2L416.0 791.0L411.0 789.5L406.0 786.5L402.0 781.5L398.5 777.3M363.0 752.0L369.0 748.0L381.0 746.0L387.0 750.0L389.0 758.0L385.0 762.0L377.0 766.0L367.0 768.0L361.0 776.0L363.0 784.0L371.0 787.0M664.0 754.0L669.0 750.0L681.0 749.0L691.0 754.0L703.0 757.0L713.0 754.0L717.0 744.0L722.0 740.0L725.0 736.0L737.0 731.0L749.0 731.0L755.0 725.0L763.0 729.0L773.0 734.0L781.0 730.0L793.0 733.0L806.0 729.0M847.0 718.0L857.0 710.0L867.0 698.0L877.0 686.0L889.0 680.0L901.0 674.0L910.0 670.0M664.0 754.0L665.0 762.0L669.0 768.0L668.0 774.0M641.0 778.0L639.0 772.0L633.0 765.0L621.0 766.0L615.0 772.0L625.0 774.0L635.0 774.0L639.0 784.0L641.0 793.0L637.0 790.0L635.0 799.0L617.0 802.0L601.0 806.0L597.0 803.0L595.0 808.0L586.0 806.0L585.0 811.0L591.0 822.0L583.0 822.0L583.0 828.0M533.0 866.0L539.0 869.0L541.0 860.0L547.0 856.0L551.0 862.0L552.0 869.0M697.0 756.0L709.0 757.0L715.0 752.0L717.0 744.0"/>
<ellipse cx="431.4" cy="524.4" rx="5" ry="5"/>
<ellipse cx="458.6" cy="602" rx="2.5" ry="2.5"/>
<ellipse cx="376" cy="643.6" rx="2.5" ry="2.5"/>
<ellipse cx="303" cy="541" rx="4" ry="4"/>
<ellipse cx="687" cy="476.4" rx="4.5" ry="4.5"/>
<ellipse cx="724" cy="482.6" rx="3" ry="3"/>
<ellipse cx="782" cy="494" rx="4" ry="5.5"/>
<ellipse cx="809" cy="495" rx="5.5" ry="5.5"/>
<ellipse cx="777" cy="513" rx="8" ry="5.5" transform="rotate(-20 777 513)"/>
<ellipse cx="745" cy="552" rx="5" ry="6.5"/>
<ellipse cx="836" cy="482" rx="5.5" ry="7"/>
<ellipse cx="867.4" cy="585" rx="3.5" ry="3.5"/>
<ellipse cx="803.6" cy="620.6" rx="2.5" ry="2.5"/>
<ellipse cx="794.4" cy="640" rx="4.5" ry="4.5"/>
<ellipse cx="830" cy="707" rx="3.5" ry="4.5"/>
<ellipse cx="727" cy="769" rx="3.5" ry="3.5"/>
<ellipse cx="634" cy="705.4" rx="5" ry="5"/>
<ellipse cx="594" cy="631" rx="7" ry="6"/>
<ellipse cx="599" cy="657" rx="5" ry="5"/>
<ellipse cx="780.5" cy="227.9" rx="2.5" ry="2.5"/>
<ellipse cx="780.5" cy="214.5" rx="2.5" ry="2.5"/>
<ellipse cx="898.4" cy="306" rx="2.5" ry="2.5"/>
<ellipse cx="898.4" cy="214.5" rx="2.5" ry="2.5"/>
<ellipse cx="254.4" cy="808.3" rx="1.5" ry="1.5"/>
<ellipse cx="804.5" cy="253.8" rx="1.5" ry="1.5"/>
<ellipse cx="804.5" cy="293" rx="1.5" ry="1.5"/>
<ellipse cx="862.7" cy="227.4" rx="1.8" ry="1.8"/>
<ellipse cx="862.7" cy="241" rx="1.8" ry="1.8"/>
<ellipse cx="862.7" cy="253.8" rx="1.8" ry="1.8"/>
<ellipse cx="862.7" cy="266.9" rx="1.8" ry="1.8"/>
<ellipse cx="862.7" cy="279.9" rx="1.8" ry="1.8"/>
<ellipse cx="862.7" cy="293" rx="1.8" ry="1.8"/>
<ellipse cx="823.5" cy="301.8" rx="7.5" ry="7.5"/>
<ellipse cx="823.5" cy="301.8" rx="4.8" ry="4.8"/>
<ellipse cx="823.5" cy="301.8" rx="1.5" ry="1.5"/>
<ellipse cx="278" cy="724.6" rx="4.5" ry="2.5" transform="rotate(40 278 724.6)"/>
<ellipse cx="295" cy="805" rx="4" ry="3" transform="rotate(30 295 805)"/>
<ellipse cx="280" cy="760" rx="1.5" ry="1" transform="rotate(30 280 760)"/>
<ellipse cx="308.6" cy="757.6" rx="1.5" ry="1"/>
<ellipse cx="585" cy="767" rx="2" ry="3" transform="rotate(30 585 767)"/>
<ellipse cx="688.2" cy="668.6" rx="22.6" ry="15.7"/>
<ellipse cx="720" cy="631.6" rx="19.6" ry="13.9"/>
</g>
<g font-size="37">
<text x="155" y="110.2" textLength="563.3" lengthAdjust="spacing">Mode 6 phase speed at 900.00 Hz</text>
<text x="129.6" y="152.4" textLength="651.7" lengthAdjust="spacing">18:00 21/Aug UTC (02:00 22/Aug CST)</text>
<text x="115.2" y="194.4">isobath lines: 100, 140, 300, 500, 800 and 1600 m</text>
</g>
<g stroke="#000" stroke-width="1" fill="none" shape-rendering="crispEdges">
<rect x="146.5" y="214.5" width="764" height="656"/>
<path d="M205.5 870.5v7.5M205.5 214.5v-7.5"/>
<path d="M322.5 870.5v7.5M322.5 214.5v-7.5"/>
<path d="M439.5 870.5v7.5M439.5 214.5v-7.5"/>
<path d="M557.5 870.5v7.5M557.5 214.5v-7.5"/>
<path d="M674.5 870.5v7.5M674.5 214.5v-7.5"/>
<path d="M792.5 870.5v7.5M792.5 214.5v-7.5"/>
<path d="M909.5 870.5v7.5M909.5 214.5v-7.5"/>
<path d="M146.5 870.5h-8M910.5 870.5h7.5"/>
<path d="M146.5 739.5h-8M910.5 739.5h7.5"/>
<path d="M146.5 608.5h-8M910.5 608.5h7.5"/>
<path d="M146.5 476.5h-8M910.5 476.5h7.5"/>
<path d="M146.5 345.5h-8M910.5 345.5h7.5"/>
<path d="M146.5 214.5h-8M910.5 214.5h7.5"/>
</g>
<g font-size="20.8">
<text x="204.9" y="902.8" text-anchor="middle">121.5</text>
<text x="322.3" y="902.8" text-anchor="middle">122</text>
<text x="439.7" y="902.8" text-anchor="middle">122.5</text>
<text x="557.0" y="902.8" text-anchor="middle">123</text>
<text x="674.4" y="902.8" text-anchor="middle">123.5</text>
<text x="791.8" y="902.8" text-anchor="middle">124</text>
<text x="909.2" y="902.8" text-anchor="middle">124.5</text>
<text x="132" y="877.5" text-anchor="end">25</text>
<text x="132" y="746.3" text-anchor="end">25.5</text>
<text x="132" y="615.1" text-anchor="end">26</text>
<text x="132" y="483.9" text-anchor="end">26.5</text>
<text x="132" y="352.7" text-anchor="end">27</text>
<text x="132" y="221.5" text-anchor="end">27.5</text>
</g>
<text x="527" y="934.7" font-size="29" text-anchor="middle">Longitude</text>
<text transform="translate(75,543.5) rotate(-90)" font-size="29" text-anchor="middle">Latitude</text>
<rect x="943" y="839.15" width="41" height="33.35" fill="url(#c0)"/>
<rect x="943" y="806.30" width="41" height="33.35" fill="url(#c1)"/>
<rect x="943" y="773.45" width="41" height="33.35" fill="#0000cc"/>
<rect x="943" y="740.60" width="41" height="33.35" fill="url(#c3)"/>
<rect x="943" y="707.75" width="41" height="33.35" fill="url(#c4)"/>
<rect x="943" y="674.90" width="41" height="33.35" fill="url(#pb)"/>
<rect x="943" y="642.05" width="41" height="33.35" fill="url(#plb)"/>
<rect x="943" y="609.20" width="41" height="33.35" fill="#00ffff"/>
<rect x="943" y="576.35" width="41" height="33.35" fill="#33ffcc"/>
<rect x="943" y="543.50" width="41" height="33.35" fill="#66ff99"/>
<rect x="943" y="510.65" width="41" height="33.35" fill="#99ff66"/>
<rect x="943" y="477.80" width="41" height="33.35" fill="#ccff33"/>
<rect x="943" y="444.95" width="41" height="33.35" fill="#f8e010"/>
<rect x="943" y="412.10" width="41" height="33.35" fill="url(#c13)"/>
<rect x="943" y="379.25" width="41" height="33.35" fill="url(#c14)"/>
<rect x="943" y="346.40" width="41" height="33.35" fill="url(#c15)"/>
<rect x="943" y="313.55" width="41" height="33.35" fill="#ff3300"/>
<rect x="943" y="280.70" width="41" height="33.35" fill="#ff3300"/>
<rect x="943" y="247.85" width="41" height="33.35" fill="url(#c18)"/>
<rect x="943" y="215.00" width="41" height="33.35" fill="url(#c19)"/>
<g stroke="#000" stroke-width="1" fill="none" shape-rendering="crispEdges">
<rect x="942.5" y="214.5" width="42" height="657"/>
<path d="M942.5 872.5h-7M984.5 872.5h7"/>
<path d="M942.5 806.5h-7M984.5 806.5h7"/>
<path d="M942.5 740.5h-7M984.5 740.5h7"/>
<path d="M942.5 674.5h-7M984.5 674.5h7"/>
<path d="M942.5 609.5h-7M984.5 609.5h7"/>
<path d="M942.5 543.5h-7M984.5 543.5h7"/>
<path d="M942.5 477.5h-7M984.5 477.5h7"/>
<path d="M942.5 412.5h-7M984.5 412.5h7"/>
<path d="M942.5 346.5h-7M984.5 346.5h7"/>
<path d="M942.5 280.5h-7M984.5 280.5h7"/>
<path d="M942.5 214.5h-7M984.5 214.5h7"/>
</g>
<g font-size="20.8">
<text x="997" y="879.0">1480</text>
<text x="997" y="813.3">1490</text>
<text x="997" y="747.6">1500</text>
<text x="997" y="681.9">1510</text>
<text x="997" y="616.2">1520</text>
<text x="997" y="550.5">1530</text>
<text x="997" y="484.8">1540</text>
<text x="997" y="419.1">1550</text>
<text x="997" y="353.4">1560</text>
<text x="997" y="287.7">1570</text>
<text x="997" y="222.0">1580</text>
</g>
<text transform="translate(1071,543) rotate(-90)" font-size="21.5" text-anchor="middle">Modal phase speed (m/s)</text>
<g clip-path="url(#ax)" font-size="11.5" text-anchor="middle">
<text transform="translate(359 343.4) rotate(0)" dy="4.6">100 m</text>
<text transform="translate(368 401) rotate(65)" dy="4.6">100 m</text>
<text transform="translate(319.4 469) rotate(50)" dy="4.6">100 m</text>
<text transform="translate(269 527) rotate(-20)" dy="4.6">100 m</text>
<text transform="translate(321 627) rotate(75)" dy="4.6">100 m</text>
<text transform="translate(419 562) rotate(-25)" dy="4.6">100 m</text>
<text transform="translate(456 371) rotate(-8)" dy="4.6">100 m</text>
<text transform="translate(562 285) rotate(-20)" dy="4.6">100 m</text>
<text transform="translate(808 337.8) rotate(8)" dy="4.6">100 m</text>
<text transform="translate(866 225) rotate(40)" dy="4.6">100 m</text>
<text transform="translate(531 609) rotate(80)" dy="4.6">100 m</text>
<text transform="translate(556 639) rotate(50)" dy="4.6">100 m</text>
<text transform="translate(611 643) rotate(30)" dy="4.6">100 m</text>
<text transform="translate(713 646.6) rotate(15)" dy="4.6">100 m</text>
<text transform="translate(681.8 681.3) rotate(10)" dy="4.6">100 m</text>
<text transform="translate(630 390) rotate(-70)" dy="4.6">140 m</text>
<text transform="translate(684 546) rotate(90)" dy="4.6">140 m</text>
<text transform="translate(757 598) rotate(0)" dy="4.6">140 m</text>
<text transform="translate(813 478) rotate(-30)" dy="4.6">140 m</text>
<text transform="translate(833 527) rotate(75)" dy="4.6">140 m</text>
<text transform="translate(858 547) rotate(-65)" dy="4.6">140 m</text>
<text transform="translate(840 612) rotate(55)" dy="4.6">140 m</text>
<text transform="translate(908 597) rotate(55)" dy="4.6">140 m</text>
<text transform="translate(449 697) rotate(-8)" dy="4.6">140 m</text>
<text transform="translate(251 742) rotate(55)" dy="4.6">140 m</text>
<text transform="translate(203 714) rotate(-80)" dy="4.6">100 m</text>
<text transform="translate(311 840) rotate(55)" dy="4.6">140 m</text>
<text transform="translate(824 637) rotate(70)" dy="4.6">300 m</text>
<text transform="translate(683 693) rotate(5)" dy="4.6">300 m</text>
<text transform="translate(572 702) rotate(20)" dy="4.6">500 m</text>
<text transform="translate(617 720) rotate(85)" dy="4.6">500 m</text>
<text transform="translate(659 720) rotate(-90)" dy="4.6">800 m</text>
<text transform="translate(548 700) rotate(-50)" dy="4.6">800</text>
<text transform="translate(495 748) rotate(40)" dy="4.6">800 m</text>
<text transform="translate(381 786) rotate(35)" dy="4.6">500 m</text>
<text transform="translate(421 804) rotate(80)" dy="4.6">800 m</text>
<text transform="translate(377 752) rotate(50)" dy="4.6">300</text>
<text transform="translate(355 867) rotate(0)" dy="4.6">300</text>
<text transform="translate(525 850) rotate(65)" dy="4.6">1600</text>
<text transform="translate(571 816) rotate(80)" dy="4.6">1600 m</text>
<text transform="translate(657 781.6) rotate(0)" dy="4.6">1600 m</text>
<text transform="translate(826 724) rotate(-5)" dy="4.6">1600 m</text>
<text transform="translate(809 696) rotate(-55)" dy="4.6">800 m</text>
<text transform="translate(786 698) rotate(65)" dy="4.6">800</text>
<text transform="translate(660 678) rotate(15)" dy="4.6">140</text>
</g>
<ellipse cx="527.5" cy="688.5" rx="3.5" ry="3" fill="#0a90fa"/>
<rect x="400" y="608" width="118" height="108" fill="none" stroke="#000" stroke-width="4"/>
<g fill="#000">
<path d="M674.4 668.6C674.6 667.3 675.9 665.6 677.4 664.8C678.9 664.0 681.7 663.8 683.5 664.0C685.3 664.2 686.8 665.2 688.0 666.3C689.2 667.4 690.6 669.5 691.0 670.8C691.4 672.1 691.3 673.6 690.3 673.9C689.3 674.2 686.6 672.8 685.0 672.8C683.4 672.8 681.9 674.0 680.4 673.9C678.9 673.8 676.9 673.3 675.9 672.4C674.9 671.5 674.1 669.9 674.4 668.6Z"/>
<path d="M694.0 671.6C694.5 670.8 695.9 669.9 697.0 670.0C698.1 670.1 699.9 671.2 700.8 672.4C701.7 673.5 702.5 675.8 702.4 676.9C702.3 678.0 701.0 679.1 700.0 679.2C699.0 679.3 697.3 678.4 696.3 677.6C695.3 676.8 694.4 675.6 694.0 674.6C693.6 673.6 693.5 672.4 694.0 671.6Z"/>
<path d="M696.3 657.2h3v1.6h1v2.2h-1v2.3h-3v-2.3h-1v-2.2h1z"/>
<path d="M701 665.2l1.6-1 3 4.7-1.6 1z"/>
<path d="M714.0 628.0C714.0 627.0 714.4 626.1 715.0 625.5C715.6 624.9 716.7 624.5 717.5 624.5C718.3 624.5 719.4 624.9 720.0 625.5C720.6 626.1 721.1 627.1 721.2 628.0C721.3 628.9 721.0 630.3 720.5 631.0C720.0 631.7 718.9 632.2 718.0 632.3C717.1 632.3 716.0 632.0 715.3 631.3C714.6 630.6 714.0 629.0 714.0 628.0Z"/>
<ellipse cx="339.4" cy="705" rx="3.5" ry="4.5"/>
<path d="M338 709l3 0-1 7-2-2z" fill="none" stroke="#000" stroke-width="0.8"/>
<path d="M342 744l3-4 3 1-1 5-3 2z"/>
<circle cx="804" cy="306" r="1.5"/>
</g>
<g clip-path="url(#ax)"><path fill="#000" d="M140.0 835.5L147.5 835.3L158.7 833.5L168.0 831.6L175.5 826.0L180.0 820.4L184.8 813.0L190.4 803.6L197.9 796.0L205.3 792.4L211.9 787.7L214.7 789.6L220.3 788.3L227.7 790.5L233.3 795.2L237.0 800.8L239.0 805.5L242.7 809.2L248.3 812.0L252.0 810.0L253.0 814.8L252.0 820.4L257.6 824.0L267.0 826.0L270.7 826.0L274.4 829.7L285.6 831.6L295.0 833.5L302.4 835.3L305.2 839.0L304.3 844.7L308.0 852.0L311.7 857.7L319.2 861.5L323.9 865.2L324.8 872.0L315.5 872.0L313.6 867.0L308.0 865.2L304.3 861.5L302.4 855.9L299.6 848.4L298.7 840.9L295.0 839.0L287.5 838.0L280.0 840.0L276.3 836.3L270.7 833.5L265.0 832.5L261.3 836.3L257.6 832.5L252.0 827.9L246.4 822.3L240.8 816.7L235.2 810.0L231.5 801.7L227.7 797.0L220.3 794.3L211.0 795.2L203.5 798.9L197.9 803.6L193.2 811.0L189.5 818.5L192.3 824.0L193.2 828.8L188.5 831.6L183.0 829.7L177.3 832.5L170.0 837.2L158.7 839.4L147.5 840.6L140.0 840.8Z"/>
<path d="M268 816l3 5-4 0z" fill="#000"/></g>
</svg></body></html>
